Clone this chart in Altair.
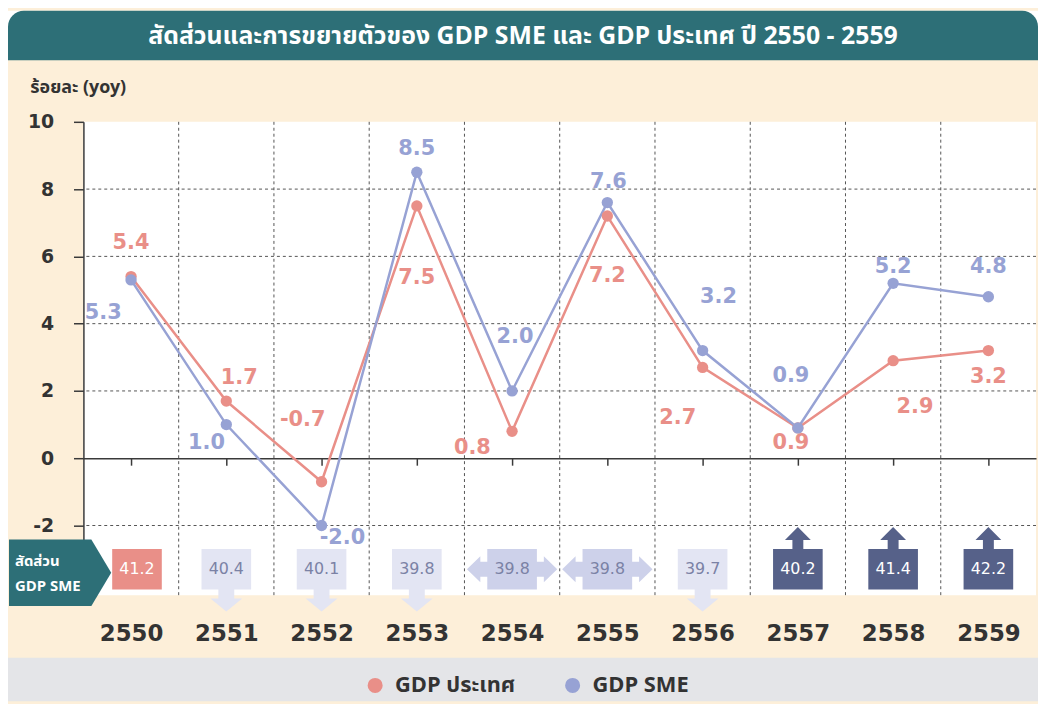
import altair as alt
import pandas as pd

# ---------------- data ----------------
years = [2550, 2551, 2552, 2553, 2554, 2555, 2556, 2557, 2558, 2559]
gdp_country = [5.4, 1.7, -0.7, 7.5, 0.8, 7.2, 2.7, 0.9, 2.9, 3.2]
gdp_sme = [5.3, 1.0, -2.0, 8.5, 2.0, 7.6, 3.2, 0.9, 5.2, 4.8]
sme_share = [41.2, 40.4, 40.1, 39.8, 39.8, 39.8, 39.7, 40.2, 41.4, 42.2]
share_move = ["base", "down", "down", "down", "same", "same", "down", "up", "up", "up"]
series_names = ["GDP ประเทศ", "GDP SME"]
y_tick_values = [-2, 0, 2, 4, 6, 8, 10]

title_text = "สัดส่วนและการขยายตัวของ GDP SME และ GDP ประเทศ ปี 2550 - 2559"
y_title = "ร้อยละ (yoy)"
share_title = ["สัดส่วน", "GDP SME"]

# ---------------- style ----------------
# label offsets in pixels
country_dx = [0, 13, -19, 0, -40, 0, -25, -7, 22, 0]
country_dy = [-34, -23, -62, 73, 17, 60, 51, 15, 47, 27]
sme_dx = [-28, -20, 21, 0, 3, 1, 16, -7, 0, 0]
sme_dy = [33, 19, 13, -23, -54, -21, -54, -52, -16, -30]
box_dx = [6, 0, 0, 0, 0, 0, 0, 0, 0, 0]

W, H = 960, 477
Y_MIN, Y_MAX = -4.07, 10
X_MIN, X_MAX = 2549.5, 2559.5
PX_Y = H / (Y_MAX - Y_MIN)
PX_X = W / (X_MAX - X_MIN)
ZERO_PX = Y_MAX * PX_Y
BOX_Y = -3.3

TEAL = "#2D6F77"
CREAM = "#FDEFD9"
GREY = "#E4E5E8"
SALMON = "#E98F88"
LAVENDER = "#97A2D4"
DARK = "#3A3A3A"
TXT = "#333333"
GRID = "#555555"
BOX_LIGHT = "#E3E5F3"
BOX_MID = "#CDD1EA"
BOX_DARK = "#566189"
BOX_TXT = "#7B82A5"

THAI_FONT = "Noto Sans Thai, Noto Sans Thai UI, Tahoma, Noto Sans, DejaVu Sans, sans-serif"
NUM_FONT = "DejaVu Sans"

PATH_BOX = "M-1,-0.82 L1,-0.82 L1,0.82 L-1,0.82 Z"
PATH_DOWN = ("M-1,-0.82 L1,-0.82 L1,0.82 L0.32,0.82 L0.32,1.18 L0.64,1.18 L0,1.7 "
             "L-0.64,1.18 L-0.32,1.18 L-0.32,0.82 L-1,0.82 Z")
PATH_UP = ("M-1,0.82 L1,0.82 L1,-0.82 L0.22,-0.82 L0.22,-1.18 L0.52,-1.18 L0,-1.7 "
           "L-0.52,-1.18 L-0.22,-1.18 L-0.22,-0.82 L-1,-0.82 Z")
PATH_SAME = ("M-1,-0.82 L1,-0.82 L1,-0.3 L1.28,-0.3 L1.28,-0.52 L1.82,0 L1.28,0.52 "
             "L1.28,0.3 L1,0.3 L1,0.82 L-1,0.82 L-1,0.3 L-1.28,0.3 L-1.28,0.52 L-1.82,0 "
             "L-1.28,-0.52 L-1.28,-0.3 L-1,-0.3 Z")
PATH_PENT = "M-5.1,-3.35 L3.2,-3.35 L5.2,0 L3.2,3.35 L-5.1,3.35 Z"

# ---------------- tables ----------------
rows = []
for name, vals, dxs, dys in [
    (series_names[0], gdp_country, country_dx, country_dy),
    (series_names[1], gdp_sme, sme_dx, sme_dy),
]:
    for yr, v, dx, dy in zip(years, vals, dxs, dys):
        rows.append(dict(year=yr, series=name, value=v, label=f"{v:.1f}",
                         lx=yr + dx / PX_X, ly=v - dy / PX_Y))
growth = pd.DataFrame(rows)

share = pd.DataFrame(dict(
    year=years, share=sme_share, move=share_move,
    label=[f"{s:.1f}" for s in sme_share],
    bx=[y + d / PX_X for y, d in zip(years, box_dx)],
    by=[BOX_Y] * len(years),
))

vgrid = pd.DataFrame(dict(gx=[y + 0.5 for y in years[:-1]]))
hgrid = pd.DataFrame(dict(gy=[v for v in y_tick_values if v not in (0, 10)]))
one = alt.Data(values=[{}])

x_scale = alt.Scale(domain=[X_MIN, X_MAX], nice=False, zero=False)
y_scale = alt.Scale(domain=[Y_MIN, Y_MAX], nice=False, zero=False)
color_scale = alt.Scale(domain=series_names, range=[SALMON, LAVENDER])

x_axis = alt.Axis(values=years, format="d", title=None, offset=-(H - ZERO_PX),
                  domain=True, domainColor=DARK, domainWidth=1.5,
                  ticks=True, tickColor=DARK, tickWidth=1.5, tickSize=7,
                  labelPadding=170, labelFontSize=23, labelFontWeight="bold",
                  labelColor=TXT, labelFont=NUM_FONT, labelBaseline="middle",
                  labelFlush=False, labelOverlap=False, grid=False)
y_axis = alt.Axis(values=y_tick_values, title=y_title, titleAngle=0,
                  labelExpr="'' + datum.value",
                  titleAlign="left", titleBaseline="middle", titleX=-54, titleY=-35,
                  titleFont=THAI_FONT, titleFontSize=18, titleFontWeight="bold",
                  titleColor=TXT, grid=False, domainColor=DARK, domainWidth=1.5,
                  tickColor=DARK, tickWidth=1.5, tickSize=10, labelPadding=20,
                  labelFontSize=19, labelFontWeight="bold", labelColor=TXT,
                  labelFont=NUM_FONT)


def X(field):
    return alt.X(field, type="quantitative", scale=x_scale, axis=x_axis)


def Y(field):
    return alt.Y(field, type="quantitative", scale=y_scale, axis=y_axis)


# ---------------- decorations ----------------
top_white = alt.Chart(one).mark_rect(color="white").encode(
    x=alt.value(-76), x2=alt.value(962), y=alt.value(-112), y2=alt.value(-90))
title_bar = alt.Chart(one).mark_rect(
    color=TEAL, cornerRadiusTopLeft=16, cornerRadiusTopRight=16).encode(
    x=alt.value(-76), x2=alt.value(962), y=alt.value(-112), y2=alt.value(-62))
title_txt = alt.Chart(one).mark_text(
    text=title_text, font=THAI_FONT, fontSize=25, fontWeight="bold", color="white",
    align="center", baseline="middle").encode(x=alt.value(443), y=alt.value(-86))
grey_band = alt.Chart(one).mark_rect(color=GREY).encode(
    x=alt.value(-76), x2=alt.value(962), y=alt.value(540), y2=alt.value(584))

vgrid_l = alt.Chart(vgrid).mark_rule(color=GRID, strokeDash=[3, 3], strokeWidth=1).encode(
    x=X("gx"))
hgrid_l = alt.Chart(hgrid).mark_rule(color=GRID, strokeDash=[3, 3], strokeWidth=1).encode(
    y=Y("gy"))

# ---------------- series ----------------
series_layers = []
for name, col in zip(series_names, [SALMON, LAVENDER]):
    base = alt.Chart(growth).transform_filter(alt.datum.series == name)
    series_layers.append(base.mark_line(strokeWidth=2.5, color=col).encode(
        x=X("year"), y=Y("value")))
for name, col in zip(series_names, [SALMON, LAVENDER]):
    base = alt.Chart(growth).transform_filter(alt.datum.series == name)
    series_layers.append(base.mark_text(
        font=NUM_FONT, fontSize=21, fontWeight="bold", align="center",
        baseline="middle", color=col).encode(x=X("lx"), y=Y("ly"), text="label:N"))

points = alt.Chart(growth).mark_circle(size=130, opacity=1).encode(
    x=X("year"), y=Y("value"),
    color=alt.Color("series:N", scale=color_scale, legend=alt.Legend(
        orient="none", legendX=283, legendY=557, direction="horizontal", title=None,
        symbolType="circle", symbolSize=230, symbolStrokeWidth=0,
        labelFont=THAI_FONT, labelFontSize=22, labelFontWeight="bold",
        labelColor=TXT, columnPadding=46, labelOffset=9, padding=0)),
)


# ---------------- share boxes ----------------
def box_layers(kind, path, fill, txt_color):
    d = alt.Chart(share).transform_filter(alt.datum.move == kind)
    enc = dict(x=X("bx"), y=Y("by"))
    shape = d.mark_point(shape=path, size=2500, filled=True, color=fill,
                         opacity=1, strokeWidth=0).encode(**enc)
    txt = d.mark_text(font=NUM_FONT, fontSize=16, color=txt_color,
                      align="center", baseline="middle").encode(text="label:N", **enc)
    return [shape, txt]


boxes = (box_layers("base", PATH_BOX, SALMON, "white")
         + box_layers("down", PATH_DOWN, BOX_LIGHT, BOX_TXT)
         + box_layers("same", PATH_SAME, BOX_MID, BOX_TXT)
         + box_layers("up", PATH_UP, BOX_DARK, "white"))

pent = alt.Chart(one).mark_point(shape=PATH_PENT, size=400, filled=True, color=TEAL,
                                 opacity=1, strokeWidth=0).encode(
    x=alt.value(-24), y=alt.value(454.5))
pent_txt1 = alt.Chart(one).mark_text(
    text=share_title[0], font=THAI_FONT, fontSize=15, fontWeight="bold", color="white",
    align="left", baseline="alphabetic").encode(x=alt.value(-69), y=alt.value(448))
pent_txt2 = alt.Chart(one).mark_text(
    text=share_title[1], font=THAI_FONT, fontSize=15, fontWeight="bold", color="white",
    align="left", baseline="alphabetic").encode(x=alt.value(-69), y=alt.value(473))

chart = alt.layer(
    top_white, title_bar, title_txt, grey_band, vgrid_l, hgrid_l,
    *series_layers, points, *boxes, pent, pent_txt1, pent_txt2,
).properties(width=W, height=H, background=CREAM, padding=0).configure_view(
    fill="white", stroke=None)

chart.save("out.html", embed_options={"renderer": "svg", "actions": False})
